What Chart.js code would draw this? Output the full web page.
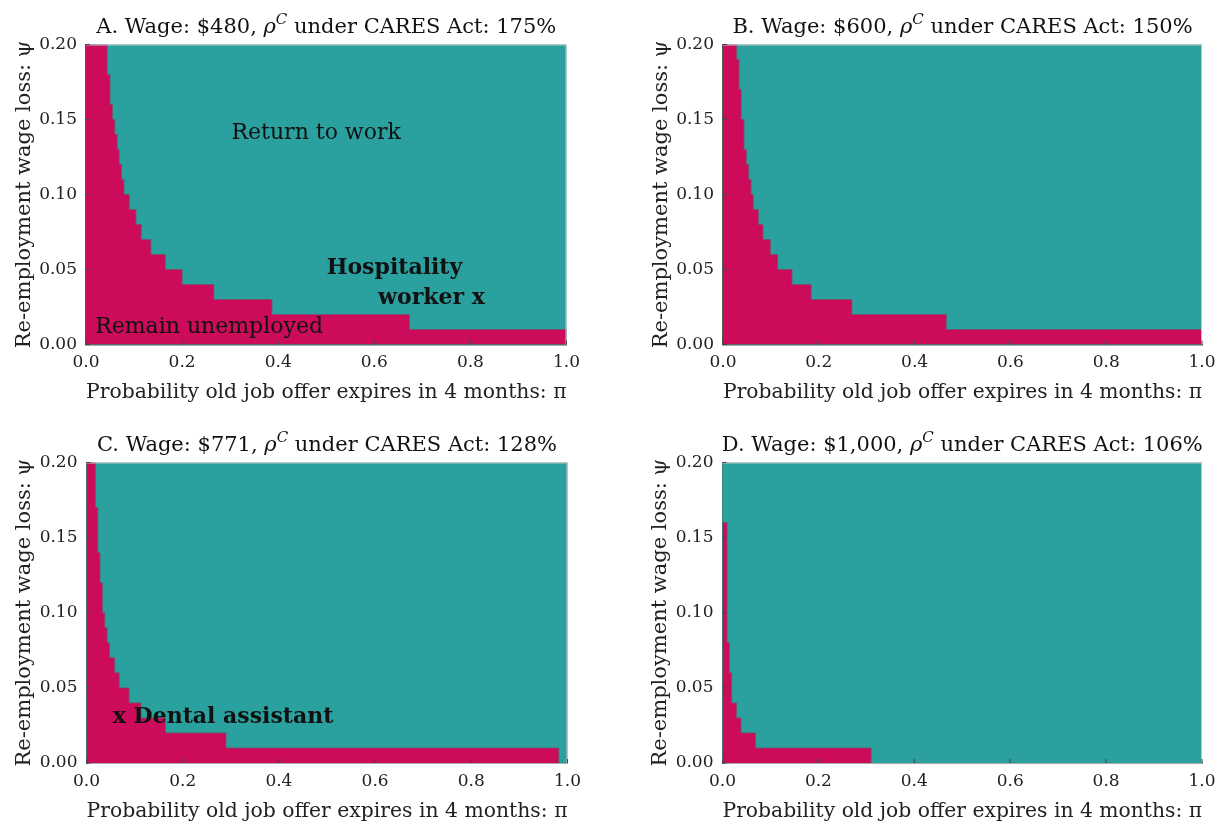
<!DOCTYPE html>
<html>
<head>
<meta charset="utf-8">
<script src="https://cdn.jsdelivr.net/npm/chart.js@4.4.1/dist/chart.umd.min.js"></script>
<style>
  body { margin: 0; width: 1219px; height: 822px; overflow: hidden; background: #fff; position: relative; }
  canvas { position: absolute; }
</style>
</head>
<body>
<canvas id="cA"></canvas>
<canvas id="cB"></canvas>
<canvas id="cC"></canvas>
<canvas id="cD"></canvas>
<script>
const MAGENTA = '#cc0b5a';
const TEAL = '#2aa19f';
const SERIF = '"DejaVu Serif", "Liberation Serif", serif';

// upper psi of each unemployment step and the pi where that step ends
const aPsi = [0.20, 0.18, 0.16, 0.15, 0.14, 0.13, 0.12, 0.11, 0.10, 0.09, 0.08, 0.07, 0.06, 0.05, 0.04, 0.03, 0.02, 0.01];
const aPi  = [0.044, 0.050, 0.055, 0.060, 0.065, 0.069, 0.074, 0.079, 0.090, 0.104, 0.115, 0.135, 0.165, 0.200, 0.266, 0.387, 0.673, 1.0];

const bPsi = [0.20, 0.19, 0.17, 0.15, 0.13, 0.12, 0.11, 0.10, 0.09, 0.08, 0.07, 0.06, 0.05, 0.04, 0.03, 0.02, 0.01];
const bPi  = [0.0285, 0.0334, 0.038, 0.0438, 0.0487, 0.0536, 0.0585, 0.063, 0.0738, 0.0835, 0.099, 0.114, 0.144, 0.184, 0.269, 0.466, 1.0];

const cPsi = [0.20, 0.17, 0.14, 0.12, 0.10, 0.09, 0.08, 0.07, 0.06, 0.05, 0.04, 0.03, 0.02, 0.01];
const cPi  = [0.0184, 0.0233, 0.028, 0.033, 0.038, 0.0427, 0.048, 0.0587, 0.068, 0.0885, 0.113, 0.164, 0.29, 0.982];

const dPsi = [0.16, 0.08, 0.06, 0.04, 0.03, 0.02, 0.01];
const dPi  = [0.0094, 0.0142, 0.019, 0.029, 0.0386, 0.069, 0.310];

// thin contour seams left inside the unemployed region
const aSeam = [[0, 0.03], [0.266, 0.03]];
const bSeam = [[0, 0.02], [0.0738, 0.02], [0.0738, 0.03], [0.184, 0.03]];
const cSeam = [[0, 0.02], [0.164, 0.02]];
const dSeam = [];

const xTicks = [0, 0.2, 0.4, 0.6, 0.8, 1.0];
const yTicks = [0, 0.05, 0.10, 0.15, 0.20];

function stairs(psi, pi) {
    let pts = [{ x: 0, y: psi[0] }];
    for (let k = 0; k < pi.length; k++) {
        pts.push({ x: pi[k], y: k + 1 < psi.length ? psi[k + 1] : 0 });
    }
    return pts;
}

const decor = {
    id: 'decor',
    beforeDatasetsDraw(chart) {
        const { ctx, chartArea: a } = chart;
        ctx.save();
        ctx.fillStyle = TEAL;
        ctx.fillRect(a.left, a.top, a.right - a.left, a.bottom - a.top);
        ctx.restore();
    },
    afterDraw(chart, args, opts) {
        const { ctx, chartArea: a, scales } = chart;
        ctx.save();
        // frame
        ctx.strokeStyle = '#c4c4c4';
        ctx.lineWidth = 1;
        ctx.beginPath();
        ctx.moveTo(a.left, a.top + 0.5);
        ctx.lineTo(a.right - 0.5, a.top + 0.5);
        ctx.lineTo(a.right - 0.5, a.bottom);
        ctx.stroke();
        // inward ticks
        ctx.strokeStyle = '#444';
        ctx.lineWidth = 1;
        ctx.beginPath();
        yTicks.forEach(v => {
            const y = scales.y.getPixelForValue(v);
            ctx.moveTo(a.left, y); ctx.lineTo(a.left + 4, y);
        });
        xTicks.forEach(v => {
            const x = scales.x.getPixelForValue(v);
            ctx.moveTo(x, a.bottom); ctx.lineTo(x, a.bottom - 4);
        });
        ctx.stroke();

        // title with superscript
        let x0 = (a.left + a.right) / 2;
        let base = a.top - 12;
        const fonts = {
            n: `21px ${SERIF}`,
            i: `italic 21px ${SERIF}`,
            s: `italic 15px ${SERIF}`
        };
        let total = 0;
        opts.title.forEach(([t, f]) => { ctx.font = fonts[f]; total += ctx.measureText(t).width; });
        let x = x0 - total / 2;
        ctx.fillStyle = '#111';
        ctx.textBaseline = 'alphabetic';
        ctx.textAlign = 'left';
        opts.title.forEach(([t, f]) => {
            ctx.font = fonts[f];
            ctx.fillText(t, x, f === 's' ? base - 9 : base);
            x += ctx.measureText(t).width;
        });

        // notes in data coordinates
        (opts.notes || []).forEach(n => {
            ctx.font = `${n.bold ? 'bold 22px' : '22px'} ${SERIF}`;
            ctx.textAlign = n.align || 'center';
            ctx.textBaseline = 'middle';
            ctx.fillText(n.text, scales.x.getPixelForValue(n.x), scales.y.getPixelForValue(n.y));
        });
        ctx.restore();
    }
};

function makePanel(id, box, psi, pi, seam, title, notes) {
    const cvLeft = Math.floor(box.l - 86);
    const cvTop = Math.floor(box.t - 45);
    const cvW = Math.min(1219 - cvLeft, Math.ceil(box.r - cvLeft + 20));
    const cvH = 45 + Math.ceil(box.b - box.t) + 66;
    const yWidth = box.l - cvLeft;
    const padTop = box.t - cvTop;
    const xHeight = cvH - padTop - (box.b - box.t);

    const cv = document.getElementById(id);
    cv.width = cvW; cv.height = cvH;
    cv.style.left = cvLeft + 'px'; cv.style.top = cvTop + 'px';

    const noPad = s => { s.paddingLeft = 0; s.paddingRight = 0; s.paddingTop = 0; s.paddingBottom = 0; };

    let options = {
        responsive: false,
        animation: false,
        layout: { padding: { left: 0, top: padTop, right: cvW - (box.r - cvLeft), bottom: 0 } },
        plugins: {
            legend: { display: false },
            tooltip: { enabled: false },
            decor: { title: title, notes: notes }
        },
        scales: {
            x: {
                type: 'linear', min: 0, max: 1,
                afterFit: s => { s.height = xHeight; noPad(s); },
                afterBuildTicks: s => { s.ticks = xTicks.map(v => ({ value: v })); },
                grid: { display: false, drawTicks: false, tickLength: 0 },
                border: { display: true, color: '#555', width: 1.5 },
                ticks: { padding: 8, color: '#222', font: { family: SERIF, size: 17 }, callback: v => v.toFixed(1) },
                title: { display: true, text: 'Probability old job offer expires in 4 months: π', color: '#222',
                         padding: { top: 0, bottom: 6.5 }, font: { family: SERIF, size: 21, lineHeight: 1 } }
            },
            y: {
                type: 'linear', min: 0, max: 0.2,
                afterFit: s => { s.width = yWidth; noPad(s); },
                afterBuildTicks: s => { s.ticks = yTicks.map(v => ({ value: v })); },
                grid: { display: false, drawTicks: false, tickLength: 0 },
                border: { display: true, color: '#555', width: 1.5 },
                ticks: { padding: 9, color: '#222', font: { family: SERIF, size: 17 }, callback: v => v.toFixed(2) },
                title: { display: true, text: 'Re-employment wage loss: ψ', color: '#222',
                         padding: { top: 14.5, bottom: 0 }, font: { family: SERIF, size: 21, lineHeight: 1 } }
            }
        }
    };

    let config = {
        type: 'line',
        data: {
            datasets: [
                {
                    data: stairs(psi, pi),
                    stepped: 'before',
                    fill: 'origin',
                    backgroundColor: MAGENTA,
                    borderColor: 'rgba(120,80,105,0.85)',
                    borderWidth: 1,
                    pointRadius: 0
                },
                {
                    data: seam.map(p => ({ x: p[0], y: p[1] })),
                    fill: false,
                    borderColor: 'rgba(120,80,105,0.85)',
                    borderWidth: 1,
                    pointRadius: 0
                }
            ]
        },
        options: options,
        plugins: [decor]
    };
    return new Chart(cv, config);
}

makePanel('cA', { l: 86, t: 44.5, r: 566.5, b: 344.5 }, aPsi, aPi, aSeam,
    [['A. Wage: $480, ', 'n'], ['ρ', 'i'], ['C', 's'], [' under CARES Act: 175%', 'n']],
    [
        { text: 'Return to work', x: 0.479, y: 0.141 },
        { text: 'Remain unemployed', x: 0.019, y: 0.0113, align: 'left' },
        { text: 'Hospitality', x: 0.642, y: 0.0506, bold: true },
        { text: 'worker x', x: 0.719, y: 0.0306, bold: true }
    ]);
makePanel('cB', { l: 723, t: 44.5, r: 1202, b: 344.5 }, bPsi, bPi, bSeam,
    [['B. Wage: $600, ', 'n'], ['ρ', 'i'], ['C', 's'], [' under CARES Act: 150%', 'n']], []);
makePanel('cC', { l: 86.5, t: 462.5, r: 567.5, b: 763 }, cPsi, cPi, cSeam,
    [['C. Wage: $771, ', 'n'], ['ρ', 'i'], ['C', 's'], [' under CARES Act: 128%', 'n']],
    [
        { text: 'x Dental assistant', x: 0.284, y: 0.0306, bold: true }
    ]);
makePanel('cD', { l: 722.5, t: 462.5, r: 1202, b: 763 }, dPsi, dPi, dSeam,
    [['D. Wage: $1,000, ', 'n'], ['ρ', 'i'], ['C', 's'], [' under CARES Act: 106%', 'n']], []);
</script>
</body>
</html>
